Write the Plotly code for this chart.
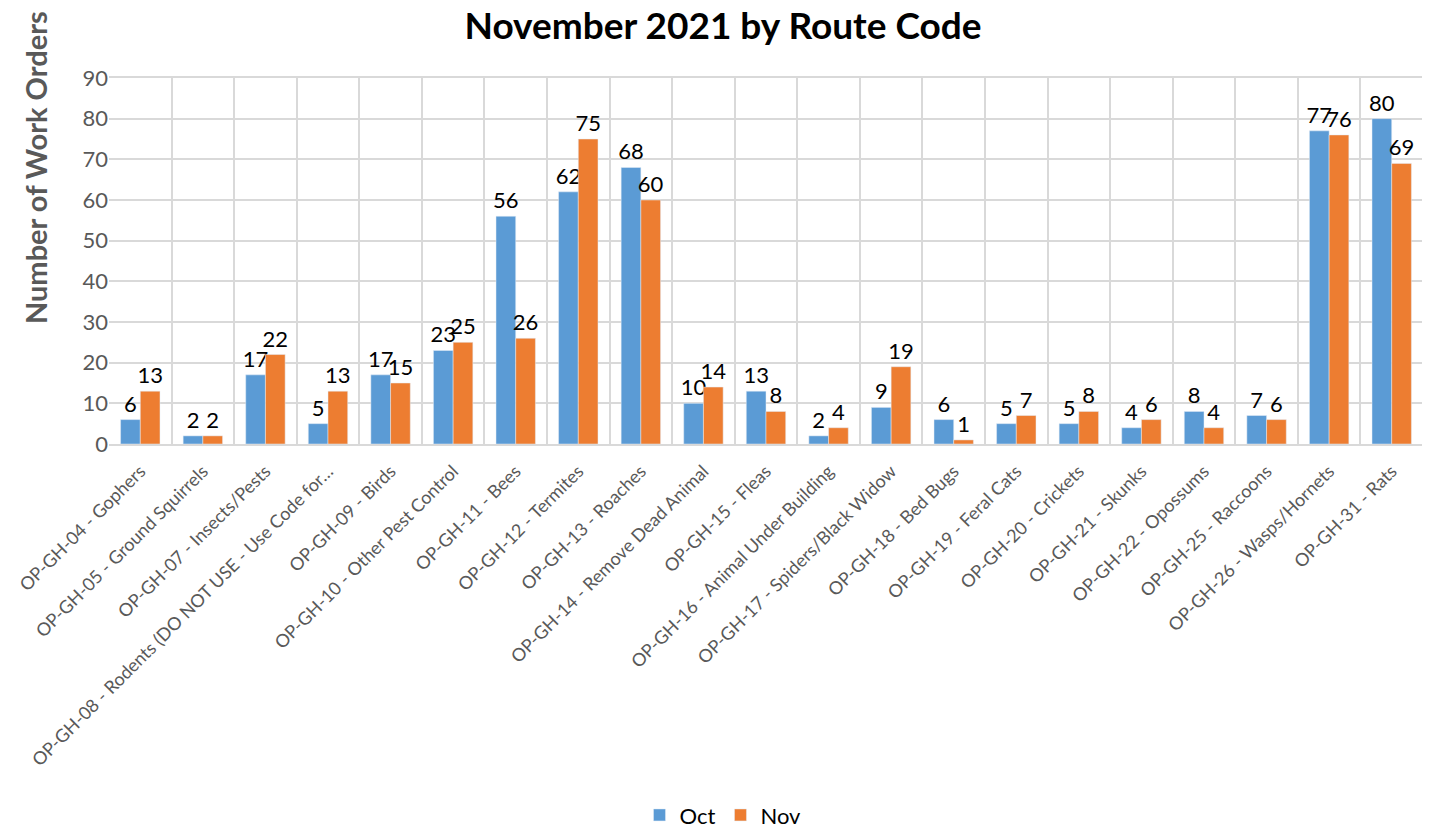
import plotly.graph_objects as go

categories = [
    "OP-GH-04 - Gophers",
    "OP-GH-05 - Ground Squirrels",
    "OP-GH-07 - Insects/Pests",
    "OP-GH-08 - Rodents (DO NOT USE - Use Code for…",
    "OP-GH-09 - Birds",
    "OP-GH-10 - Other Pest Control",
    "OP-GH-11 - Bees",
    "OP-GH-12 - Termites",
    "OP-GH-13 - Roaches",
    "OP-GH-14 - Remove Dead Animal",
    "OP-GH-15 - Fleas",
    "OP-GH-16 - Animal Under Building",
    "OP-GH-17 - Spiders/Black Widow",
    "OP-GH-18 - Bed Bugs",
    "OP-GH-19 - Feral Cats",
    "OP-GH-20 - Crickets",
    "OP-GH-21 - Skunks",
    "OP-GH-22 - Opossums",
    "OP-GH-25 - Raccoons",
    "OP-GH-26 - Wasps/Hornets",
    "OP-GH-31 - Rats",
]
oct_values = [6, 2, 17, 5, 17, 23, 56, 62, 68, 10, 13, 2, 9, 6, 5, 5, 4, 8, 7, 77, 80]
nov_values = [13, 2, 22, 13, 15, 25, 26, 75, 60, 14, 8, 4, 19, 1, 7, 8, 6, 4, 6, 76, 69]
y_ticks = [0, 10, 20, 30, 40, 50, 60, 70, 80, 90]

FONT = "Lato, Carlito, Calibri, sans-serif"

fig = go.Figure()
fig.add_trace(go.Bar(
    name="Oct", x=categories, y=oct_values, marker_color="#5B9BD5",
    text=oct_values, textposition="outside", cliponaxis=False, constraintext="none",
    textfont=dict(size=22, color="#000000", family=FONT),
))
fig.add_trace(go.Bar(
    name="Nov", x=categories, y=nov_values, marker_color="#ED7D31",
    text=nov_values, textposition="outside", cliponaxis=False, constraintext="none",
    textfont=dict(size=22, color="#000000", family=FONT),
))

fig.update_layout(
    width=1430, height=828,
    barmode="group", bargap=0.37, bargroupgap=0,
    paper_bgcolor="white", plot_bgcolor="white",
    font=dict(family=FONT, color="#595959"),
    title=dict(text="<b>November 2021 by Route Code</b>", x=0.5, xanchor="center",
               y=1.0, yanchor="top", pad=dict(t=5, b=0, l=0, r=0),
               font=dict(size=37, color="#000000", family=FONT)),
    margin=dict(l=101, r=15, t=70, b=392, autoexpand=False),
    legend=dict(orientation="h", xref="container", x=0.5, xanchor="center",
                y=-1.014, yanchor="middle",
                font=dict(size=22, color="#000000", family=FONT), itemwidth=30),
    annotations=[dict(
        text="<b>Number of Work Orders</b>", textangle=-90, xref="paper", yref="paper",
        x=-0.0563, y=0.754, xanchor="center", yanchor="middle", showarrow=False,
        font=dict(size=29, color="#595959", family=FONT),
    )],
)
fig.update_xaxes(
    type="category", tickangle=-45, tickson="boundaries", showgrid=True,
    gridcolor="#D9D9D9", gridwidth=1.5, showline=True, linecolor="#D9D9D9", linewidth=1.5,
    ticks="", tickfont=dict(size=18, color="#595959", family=FONT), mirror=True,
    automargin=False, ticklabelstandoff=8,
)
fig.update_yaxes(
    range=[0, 90], tickvals=y_ticks, showgrid=True, gridcolor="#D9D9D9", gridwidth=1.5,
    zeroline=False, showline=False, ticks="", automargin=False,
    tickfont=dict(size=22, color="#595959", family=FONT),
)

fig.write_html("out.html")
